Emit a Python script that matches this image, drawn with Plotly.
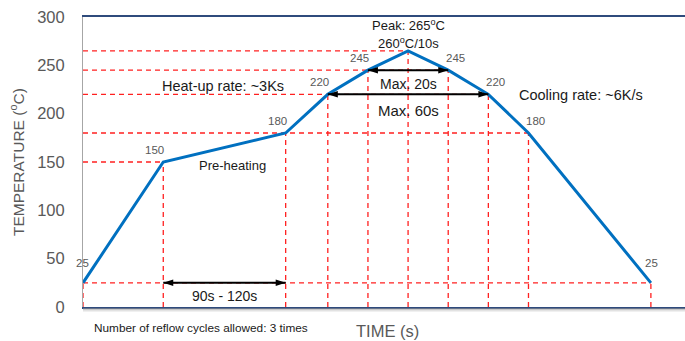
import plotly.graph_objects as go

# ---- data ----
time_s = [0, 40, 101, 122, 142, 162, 182, 202, 222, 283]
temp_c = [25, 150, 180, 220, 245, 265, 245, 220, 180, 25]
point_labels = ["25", "150", "180", "220", "245", "", "245", "220", "180", "25"]
y_ticks = [0, 50, 100, 150, 200, 250, 300]

arrow_from = [40, 142, 122]
arrow_to = [101, 182, 202]
arrow_level = [25, 245, 220]
arrow_text = ["90s - 120s", "Max. 20s", "Max. 60s"]

peak_lines = ["260<sup>o</sup>C/10s", "Peak: 265<sup>o</sup>C"]

RED = "#FF2020"
BLUE = "#0070C0"
GRAY = "#595959"
DARK = "#1a1a1a"
FONT = "Liberation Sans, Arial, sans-serif"

fig = go.Figure()

# red dashed guide lines (horizontal to the right-most point at each level, vertical down to 0)
hx, hy, vx, vy = [], [], [], []
for lvl in sorted(set(temp_c)):
    xmax = max(t for t, v in zip(time_s, temp_c) if v == lvl)
    hx += [0, xmax, None]
    hy += [lvl, lvl, None]
for t, v in zip(time_s, temp_c):
    vx += [t, t, None]
    vy += [0, v, None]
fig.add_trace(go.Scatter(x=hx + vx, y=hy + vy, mode="lines",
                         line=dict(color=RED, width=1.3, dash="5px,4px"),
                         hoverinfo="skip", showlegend=False))

# profile line
fig.add_trace(go.Scatter(x=time_s, y=temp_c, mode="lines",
                         line=dict(color=BLUE, width=3),
                         showlegend=False))

# double arrows: shaft + arrow heads (tip of 'arrow' symbol sits on the point)
for a, b, lvl in zip(arrow_from, arrow_to, arrow_level):
    fig.add_trace(go.Scatter(x=[a, b], y=[lvl, lvl], mode="lines",
                             line=dict(color="black", width=2),
                             hoverinfo="skip", showlegend=False))
    fig.add_trace(go.Scatter(x=[a, b], y=[lvl, lvl], mode="markers",
                             marker=dict(symbol="arrow", size=10.5, angle=[-90, 90],
                                         color="black", line=dict(width=0)),
                             hoverinfo="skip", showlegend=False))

ann = []
# point labels
peak_i = temp_c.index(max(temp_c))
for i, (t, v, lab) in enumerate(zip(time_s, temp_c, point_labels)):
    if not lab:
        continue
    rising = i < peak_i
    ys = 12 if v == 25 else 4
    xs = (3 if rising else -4) + (5 if v == 25 else 0)
    ann.append(dict(x=t, y=v, text=lab, showarrow=False, xref="x", yref="y",
                    xanchor="right" if rising else "left", yanchor="bottom",
                    xshift=xs if rising else (-4 if v != 25 else -8), yshift=ys,
                    font=dict(family=FONT, size=11.5, color=GRAY)))

# arrow texts
for a, b, lvl, txt in zip(arrow_from, arrow_to, arrow_level, arrow_text):
    ann.append(dict(x=(a + b) / 2, y=lvl, text=txt, showarrow=False, xref="x", yref="y",
                    xanchor="center", yanchor="middle",
                    yshift=-13 if lvl == 25 else (-14 if lvl == 245 else -16),
                    font=dict(family=FONT, size=14 if lvl != 220 else 15, color=DARK)))

# peak labels
for k, txt in enumerate(peak_lines):
    ann.append(dict(x=time_s[peak_i], y=temp_c[peak_i], text=txt, showarrow=False,
                    xref="x", yref="y", xanchor="center", yanchor="middle",
                    yshift=8 + 18 * k,
                    font=dict(family=FONT, size=13, color=DARK)))

# free texts
ann.append(dict(x=38.4, y=228.6, text="Heat-up rate: ~3Ks", showarrow=False, xref="x", yref="y",
                xanchor="left", yanchor="middle", font=dict(family=FONT, size=14.5, color=DARK)))
ann.append(dict(x=216.3, y=219.3, text="Cooling rate: ~6K/s", showarrow=False, xref="x", yref="y",
                xanchor="left", yanchor="middle", font=dict(family=FONT, size=14.5, color=DARK)))
ann.append(dict(x=74.3, y=146.9, text="Pre-heating", showarrow=False, xref="x", yref="y",
                xanchor="center", yanchor="middle", font=dict(family=FONT, size=13, color=DARK)))
ann.append(dict(x=0.015, y=-0.0724, text="Number of reflow cycles allowed: 3 times", showarrow=False,
                xref="paper", yref="paper", xanchor="left", yanchor="middle",
                font=dict(family=FONT, size=11.8, color=DARK)))
ann.append(dict(x=0.5066, y=-0.0828, text="TIME (s)", showarrow=False,
                xref="paper", yref="paper", xanchor="center", yanchor="middle",
                font=dict(family=FONT, size=16.5, color=GRAY)))
ann.append(dict(x=-0.1096, y=0.5, text="TEMPERATURE (<sup>o</sup>C)", showarrow=False, textangle=-90,
                xref="paper", yref="paper", xanchor="center", yanchor="middle",
                font=dict(family=FONT, size=15.5, color=GRAY)))

# soft shadow under bottom axis
shapes = []
for k, c in enumerate(["#9a9a9a", "#c4c4c4", "#e2e2e2"]):
    yy = -(2 + k) / 290
    shapes.append(dict(type="line", xref="paper", yref="paper", x0=0, x1=1, y0=yy, y1=yy,
                       line=dict(color=c, width=1)))

fig.update_layout(
    width=685, height=341,
    margin=dict(l=83, r=0, t=17, b=34, autoexpand=False),
    paper_bgcolor="white", plot_bgcolor="white",
    showlegend=False,
    annotations=ann,
    shapes=shapes,
    xaxis=dict(range=[0, 300], showticklabels=False, showgrid=False, zeroline=False,
               showline=True, linecolor="#2F4B7C", linewidth=2, mirror=True, ticks=""),
    yaxis=dict(range=[0, 300], tickvals=y_ticks, showgrid=False, zeroline=False,
               showline=True, linecolor="#A6A6A6", linewidth=1, ticks="",
               ticklabelstandoff=14,
               tickfont=dict(family=FONT, size=16.5, color=GRAY)),
)

fig.write_html("out.html", config={"displayModeBar": False},
               post_script="document.body.style.margin='0';")
